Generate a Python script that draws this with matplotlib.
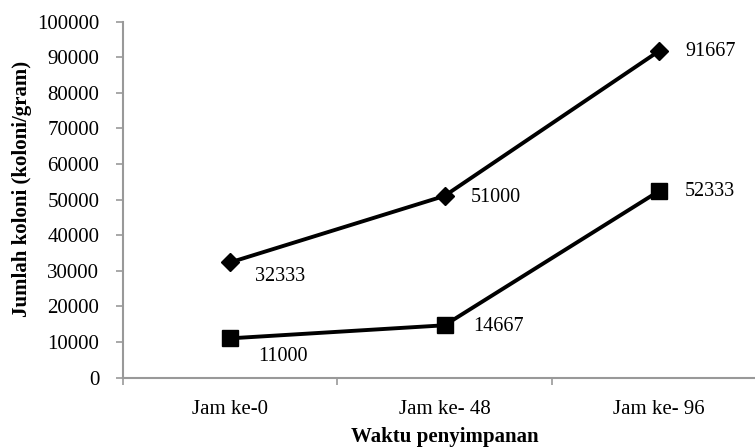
import numpy as np
import matplotlib
matplotlib.use("Agg")
import matplotlib.pyplot as plt

# data
categories = ["Jam ke-0", "Jam ke- 48", "Jam ke- 96"]
series_diamond = [32333, 51000, 91667]
series_square = [11000, 14667, 52333]
y_ticks = list(range(0, 100001, 10000))

plt.rcParams['font.family'] = ['Liberation Serif', 'DejaVu Serif']

fig = plt.figure(figsize=(7.55, 4.48), dpi=100)
# axis runs a little past the right edge of the picture, as in the reference
ax = fig.add_axes([123/755, 70.5/448, 643/755, 356/448])

x = np.arange(len(categories)) + 0.5
ax.plot(x, series_diamond, color='black', lw=2.8, marker='D', ms=9.5, zorder=3)
ax.plot(x, series_square, color='black', lw=2.8, marker='s', ms=11.5, zorder=3)

# value labels (first point of each line sits lower)
diamond_offsets = [(18, -10), (19, -1), (19, 0)]
square_offsets = [(20, -13), (21, -1), (19, 0)]
for i, v in enumerate(series_diamond):
    ax.annotate(str(v), (x[i], v), xytext=diamond_offsets[i], textcoords='offset points',
                ha='left', va='center', fontsize=14.5)
for i, v in enumerate(series_square):
    ax.annotate(str(v), (x[i], v), xytext=square_offsets[i], textcoords='offset points',
                ha='left', va='center', fontsize=14.5)

ax.set_xlim(0, 3)
ax.set_ylim(0, 100000)
ax.set_yticks(y_ticks)
ax.set_yticklabels([str(t) for t in y_ticks], fontsize=15)
ax.set_xticks([0, 1, 2, 3])
ax.set_xticklabels([])
ax.set_xticks(x, minor=True)
ax.set_xticklabels(categories, minor=True, fontsize=15)
ax.tick_params(axis='x', which='minor', length=0, pad=16)
ax.tick_params(axis='x', which='major', length=5, color='#999999', width=1.2)
ax.tick_params(axis='y', length=5, color='#999999', width=1.2, pad=12)

for s in ['top', 'right']:
    ax.spines[s].set_visible(False)
for s in ['left', 'bottom']:
    ax.spines[s].set_color('#999999')
    ax.spines[s].set_linewidth(1.5)

ax.set_ylabel("Jumlah koloni (koloni/gram)", fontsize=15, fontweight='bold')
ax.yaxis.set_label_coords(-0.142, 0.53)
ax.set_xlabel("Waktu penyimpanan", fontsize=15, fontweight='bold', labelpad=6)

fig.savefig("out.png", dpi=100)
